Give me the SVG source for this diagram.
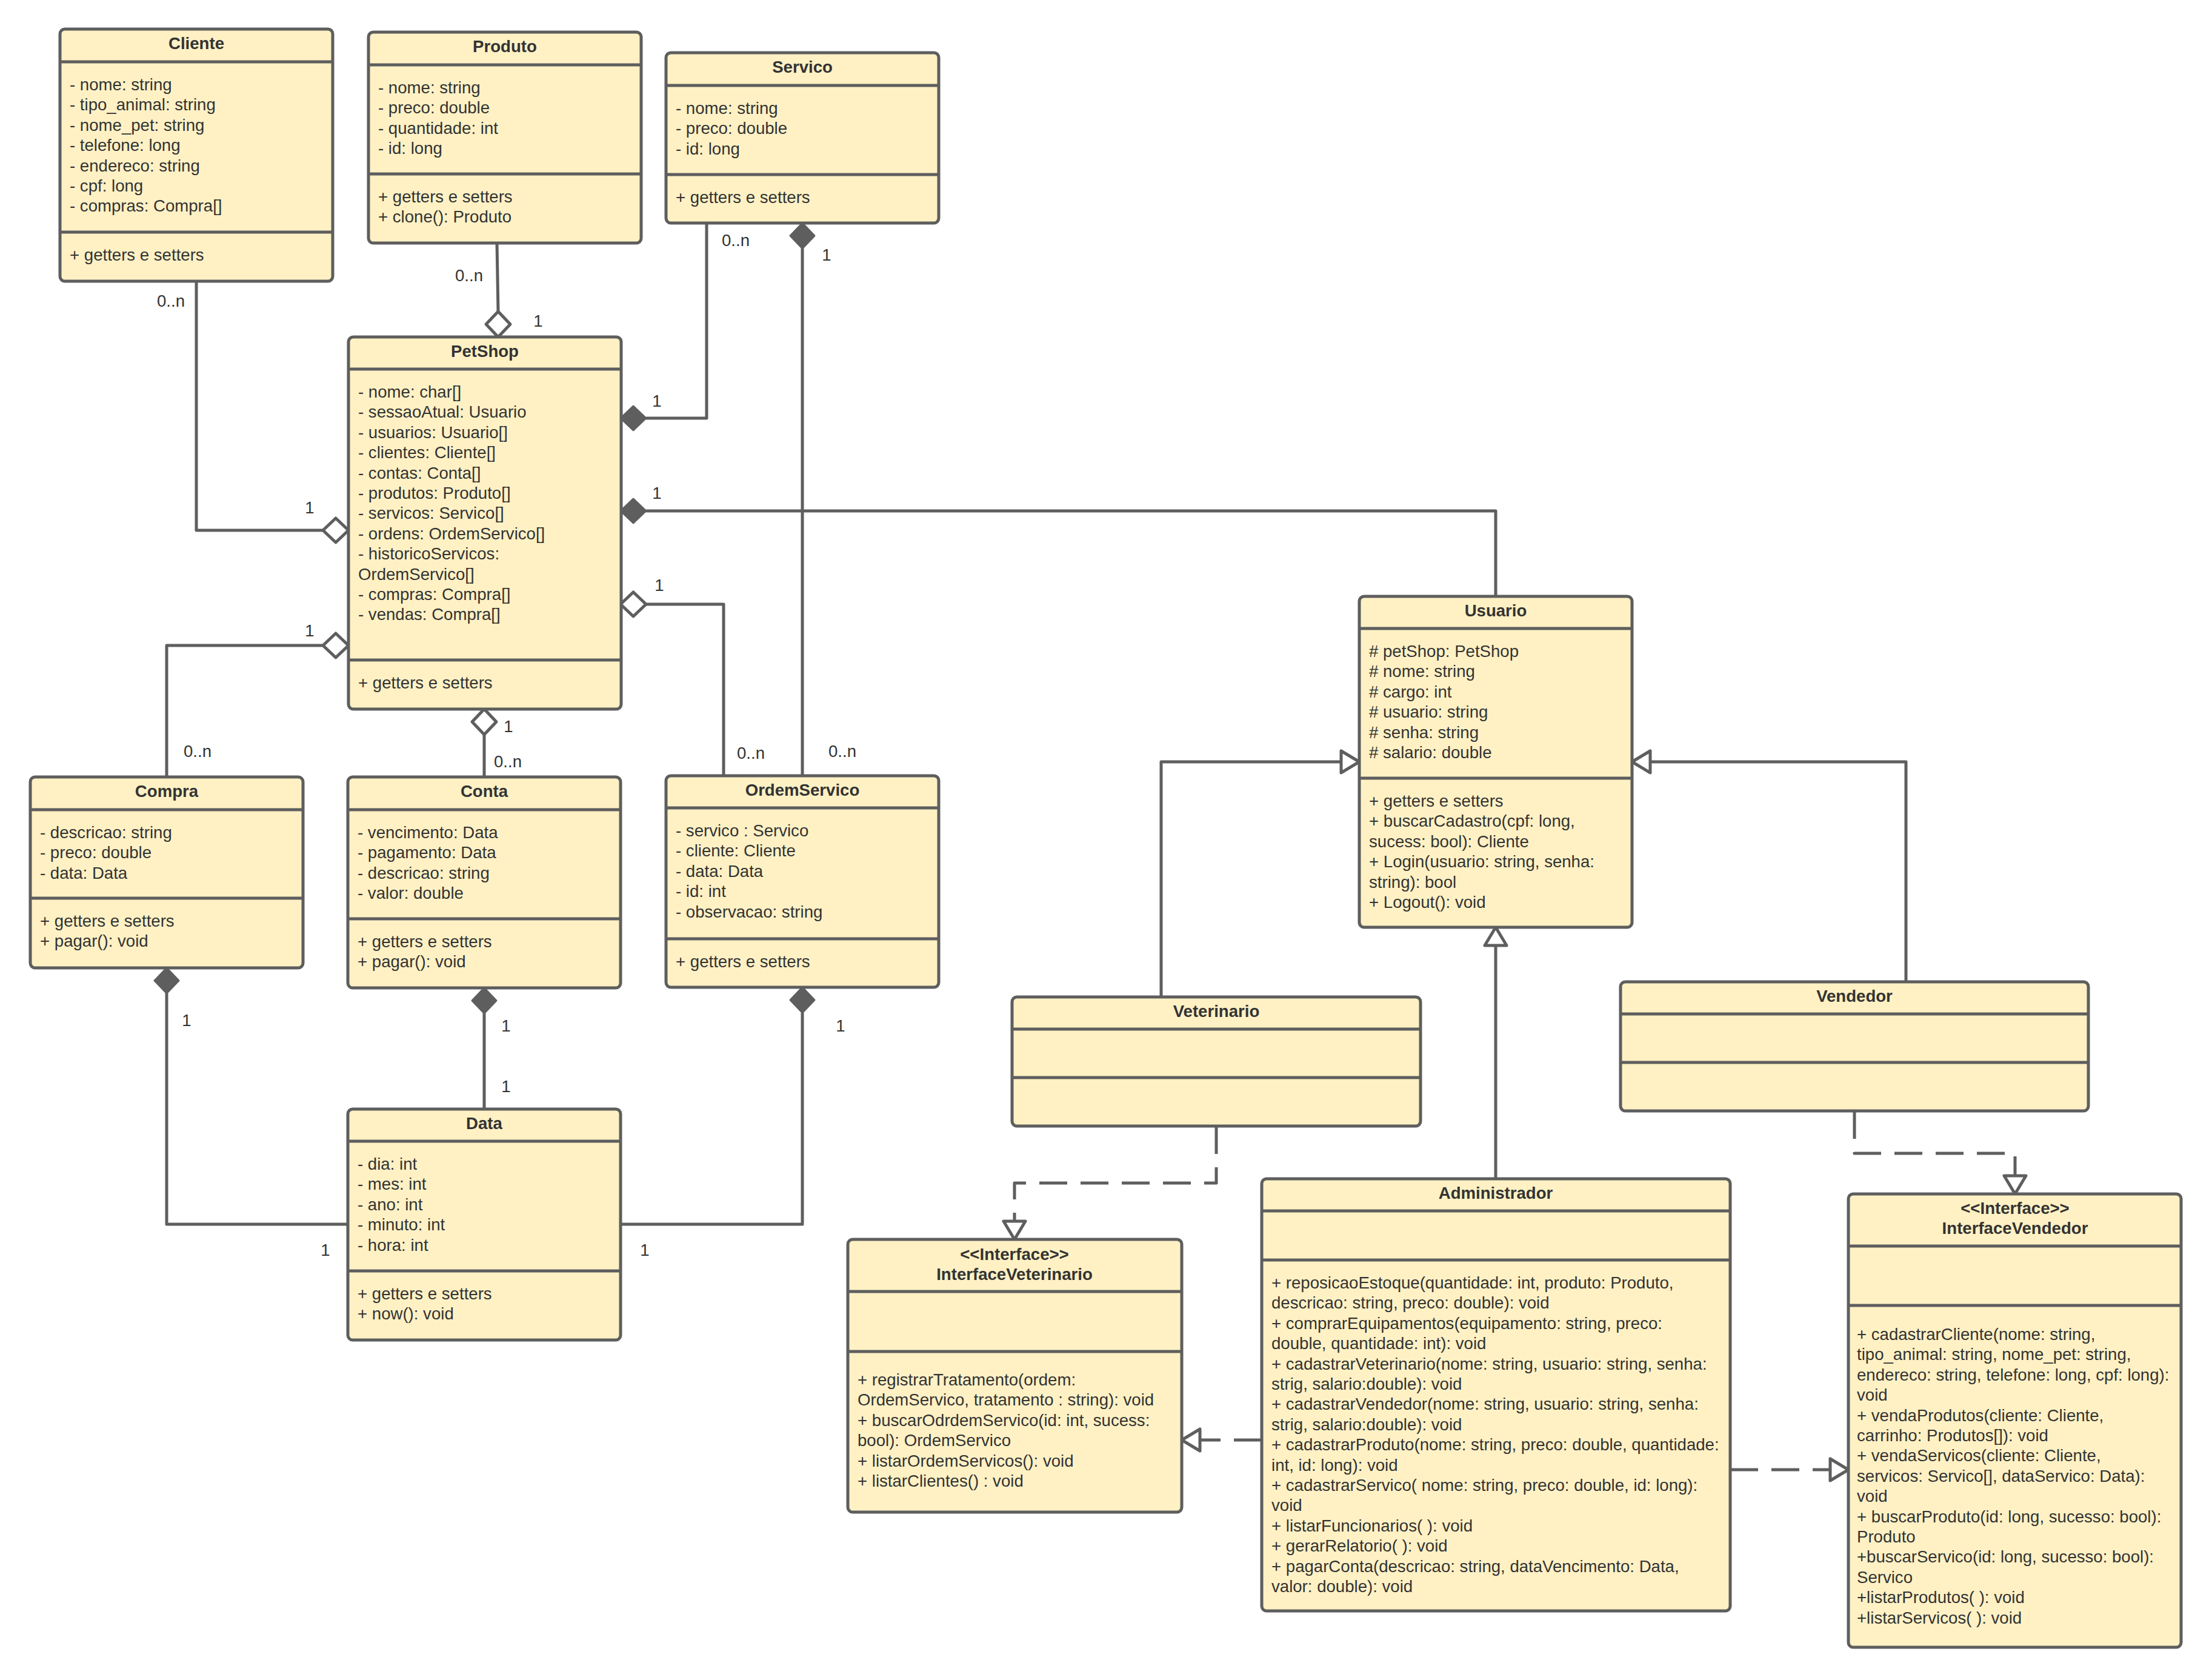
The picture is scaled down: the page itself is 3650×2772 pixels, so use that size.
<svg xmlns="http://www.w3.org/2000/svg" width="3650" height="2772" viewBox="0 0 3650 2772">
<style>
.bg{fill:#ffffff}
.box{fill:#fff1c4;stroke:#5e5e5e;stroke-width:5}
.dv{stroke:#5e5e5e;stroke-width:5}
.t{font-family:"Liberation Sans",Arial,sans-serif;font-size:27.6px;fill:#333333}
.h{font-weight:bold;text-anchor:middle}
.ln{fill:none;stroke:#5e5e5e;stroke-width:5;stroke-linejoin:round}
.dash{stroke-dasharray:46 22}
.fd{fill:#5e5e5e;stroke:#5e5e5e;stroke-width:3;stroke-linejoin:round}
.hd{fill:#ffffff;stroke:#5e5e5e;stroke-width:5;stroke-linejoin:round}
.lb{font-family:"Liberation Sans",Arial,sans-serif;font-size:27.6px;fill:#333333;text-anchor:middle}
</style>
<rect class="bg" x="0" y="0" width="3650" height="2772"/>

<g id="connectors">
  <!-- Cliente - PetShop -->
  <path class="ln" d="M324 464 V875 H533"/>
  <polygon class="hd" points="575,875 554,855 533,875 554,895"/>
  <!-- Produto - PetShop -->
  <path class="ln" d="M820 401 L822 514"/>
  <polygon class="hd" points="822,556 802,535 822,514 842,535"/>
  <!-- Servico - PetShop -->
  <path class="ln" d="M1166 368 V690 H1066"/>
  <polygon class="fd" points="1024,690 1045,670 1066,690 1045,710"/>
  <!-- PetShop - Usuario -->
  <path class="ln" d="M1066 843 H2468 V984"/>
  <polygon class="fd" points="1024,843 1045,823 1066,843 1045,863"/>
  <!-- PetShop - OrdemServico -->
  <path class="ln" d="M1066 997 H1194 V1280"/>
  <polygon class="hd" points="1024,997 1045,977 1066,997 1045,1017"/>
  <!-- Servico - OrdemServico -->
  <path class="ln" d="M1324 410 V1280"/>
  <polygon class="fd" points="1324,368 1344,389 1324,410 1304,389"/>
  <!-- PetShop - Compra -->
  <path class="ln" d="M533 1065 H275 V1282"/>
  <polygon class="hd" points="575,1065 554,1045 533,1065 554,1085"/>
  <!-- PetShop - Conta -->
  <path class="ln" d="M799 1212 V1282"/>
  <polygon class="hd" points="799,1170 819,1191 799,1212 779,1191"/>
  <!-- Compra - Data -->
  <path class="ln" d="M275 1639 V2020 H574"/>
  <polygon class="fd" points="275,1597 295,1618 275,1639 255,1618"/>
  <!-- Conta - Data -->
  <path class="ln" d="M799 1672 V1830"/>
  <polygon class="fd" points="799,1630 819,1651 799,1672 779,1651"/>
  <!-- OrdemServico - Data -->
  <path class="ln" d="M1324 1671 V2020 H1024"/>
  <polygon class="fd" points="1324,1629 1344,1650 1324,1671 1304,1650"/>
  <!-- Generalizations -->
  <path class="ln" d="M1916 1645 V1257 H2213"/>
  <polygon class="hd" points="2243,1257 2213,1239 2213,1275"/>
  <path class="ln" d="M3145 1620 V1257 H2723"/>
  <polygon class="hd" points="2693,1257 2723,1239 2723,1275"/>
  <path class="ln" d="M2468 1945 V1560"/>
  <polygon class="hd" points="2468,1530 2450,1560 2486,1560"/>
  <!-- Realizations -->
  <path class="ln dash" d="M2007 1858 V1952 H1674 V2015"/>
  <polygon class="hd" points="1674,2045 1656,2015 1692,2015"/>
  <path class="ln dash" d="M3060 1833 V1903 H3325 V1940"/>
  <polygon class="hd" points="3325,1970 3307,1940 3343,1940"/>
  <path class="ln dash" d="M2082 2376 H1980"/>
  <polygon class="hd" points="1950,2376 1980,2358 1980,2394"/>
  <path class="ln dash" d="M2855 2425 H3020"/>
  <polygon class="hd" points="3050,2425 3020,2407 3020,2443"/>
  <!-- Multiplicities -->
  <text class="lb" x="282" y="506">0..n</text>
  <text class="lb" x="511" y="847">1</text>
  <text class="lb" x="774" y="464">0..n</text>
  <text class="lb" x="888" y="539">1</text>
  <text class="lb" x="1214" y="406">0..n</text>
  <text class="lb" x="1364" y="430">1</text>
  <text class="lb" x="1084" y="671">1</text>
  <text class="lb" x="1084" y="823">1</text>
  <text class="lb" x="1088" y="975">1</text>
  <text class="lb" x="511" y="1050">1</text>
  <text class="lb" x="839" y="1208">1</text>
  <text class="lb" x="838" y="1266">0..n</text>
  <text class="lb" x="326" y="1249">0..n</text>
  <text class="lb" x="1239" y="1252">0..n</text>
  <text class="lb" x="1390" y="1249">0..n</text>
  <text class="lb" x="308" y="1693">1</text>
  <text class="lb" x="835" y="1702">1</text>
  <text class="lb" x="835" y="1802">1</text>
  <text class="lb" x="1387" y="1702">1</text>
  <text class="lb" x="537" y="2072">1</text>
  <text class="lb" x="1064" y="2072">1</text>
</g>

<g id="cliente">
  <rect class="box" x="99" y="48" width="450" height="416" rx="8"/>
  <line class="dv" x1="99" y1="102" x2="549" y2="102"/>
  <line class="dv" x1="99" y1="383" x2="549" y2="383"/>
  <text class="t h" x="324" y="81">Cliente</text>
  <text class="t" x="115" y="149"><tspan x="115">- nome: string</tspan><tspan x="115" dy="33.4">- tipo_animal: string</tspan><tspan x="115" dy="33.4">- nome_pet: string</tspan><tspan x="115" dy="33.4">- telefone: long</tspan><tspan x="115" dy="33.4">- endereco: string</tspan><tspan x="115" dy="33.4">- cpf: long</tspan><tspan x="115" dy="33.4">- compras: Compra[]</tspan></text>
  <text class="t" x="115" y="430">+ getters e setters</text>
</g>

<g id="produto">
  <rect class="box" x="608" y="53" width="450" height="348" rx="8"/>
  <line class="dv" x1="608" y1="107" x2="1058" y2="107"/>
  <line class="dv" x1="608" y1="287" x2="1058" y2="287"/>
  <text class="t h" x="833" y="86">Produto</text>
  <text class="t" x="624" y="154"><tspan x="624">- nome: string</tspan><tspan x="624" dy="33.4">- preco: double</tspan><tspan x="624" dy="33.4">- quantidade: int</tspan><tspan x="624" dy="33.4">- id: long</tspan></text>
  <text class="t" x="624" y="334"><tspan x="624">+ getters e setters</tspan><tspan x="624" dy="33.4">+ clone(): Produto</tspan></text>
</g>

<g id="servico">
  <rect class="box" x="1099" y="87" width="450" height="281" rx="8"/>
  <line class="dv" x1="1099" y1="141" x2="1549" y2="141"/>
  <line class="dv" x1="1099" y1="288" x2="1549" y2="288"/>
  <text class="t h" x="1324" y="120">Servico</text>
  <text class="t" x="1115" y="188"><tspan x="1115">- nome: string</tspan><tspan x="1115" dy="33.4">- preco: double</tspan><tspan x="1115" dy="33.4">- id: long</tspan></text>
  <text class="t" x="1115" y="335">+ getters e setters</text>
</g>

<g id="petshop">
  <rect class="box" x="575" y="556" width="450" height="614" rx="8"/>
  <line class="dv" x1="575" y1="609" x2="1025" y2="609"/>
  <line class="dv" x1="575" y1="1089" x2="1025" y2="1089"/>
  <text class="t h" x="800" y="589">PetShop</text>
  <text class="t" x="591" y="656"><tspan x="591">- nome: char[]</tspan><tspan x="591" dy="33.4">- sessaoAtual: Usuario</tspan><tspan x="591" dy="33.4">- usuarios: Usuario[]</tspan><tspan x="591" dy="33.4">- clientes: Cliente[]</tspan><tspan x="591" dy="33.4">- contas: Conta[]</tspan><tspan x="591" dy="33.4">- produtos: Produto[]</tspan><tspan x="591" dy="33.4">- servicos: Servico[]</tspan><tspan x="591" dy="33.4">- ordens: OrdemServico[]</tspan><tspan x="591" dy="33.4">- historicoServicos:</tspan><tspan x="591" dy="33.4">OrdemServico[]</tspan><tspan x="591" dy="33.4">- compras: Compra[]</tspan><tspan x="591" dy="33.4">- vendas: Compra[]</tspan></text>
  <text class="t" x="591" y="1136">+ getters e setters</text>
</g>

<g id="compra">
  <rect class="box" x="50" y="1282" width="450" height="315" rx="8"/>
  <line class="dv" x1="50" y1="1336" x2="500" y2="1336"/>
  <line class="dv" x1="50" y1="1482" x2="500" y2="1482"/>
  <text class="t h" x="275" y="1315">Compra</text>
  <text class="t" x="66" y="1383"><tspan x="66">- descricao: string</tspan><tspan x="66" dy="33.4">- preco: double</tspan><tspan x="66" dy="33.4">- data: Data</tspan></text>
  <text class="t" x="66" y="1529"><tspan x="66">+ getters e setters</tspan><tspan x="66" dy="33.4">+ pagar(): void</tspan></text>
</g>

<g id="conta">
  <rect class="box" x="574" y="1282" width="450" height="348" rx="8"/>
  <line class="dv" x1="574" y1="1336" x2="1024" y2="1336"/>
  <line class="dv" x1="574" y1="1516" x2="1024" y2="1516"/>
  <text class="t h" x="799" y="1315">Conta</text>
  <text class="t" x="590" y="1383"><tspan x="590">- vencimento: Data</tspan><tspan x="590" dy="33.4">- pagamento: Data</tspan><tspan x="590" dy="33.4">- descricao: string</tspan><tspan x="590" dy="33.4">- valor: double</tspan></text>
  <text class="t" x="590" y="1563"><tspan x="590">+ getters e setters</tspan><tspan x="590" dy="33.4">+ pagar(): void</tspan></text>
</g>

<g id="ordemservico">
  <rect class="box" x="1099" y="1280" width="450" height="349" rx="8"/>
  <line class="dv" x1="1099" y1="1333" x2="1549" y2="1333"/>
  <line class="dv" x1="1099" y1="1549" x2="1549" y2="1549"/>
  <text class="t h" x="1324" y="1313">OrdemServico</text>
  <text class="t" x="1115" y="1380"><tspan x="1115">- servico : Servico</tspan><tspan x="1115" dy="33.4">- cliente: Cliente</tspan><tspan x="1115" dy="33.4">- data: Data</tspan><tspan x="1115" dy="33.4">- id: int</tspan><tspan x="1115" dy="33.4">- observacao: string</tspan></text>
  <text class="t" x="1115" y="1596">+ getters e setters</text>
</g>

<g id="data">
  <rect class="box" x="574" y="1830" width="450" height="381" rx="8"/>
  <line class="dv" x1="574" y1="1883" x2="1024" y2="1883"/>
  <line class="dv" x1="574" y1="2097" x2="1024" y2="2097"/>
  <text class="t h" x="799" y="1863">Data</text>
  <text class="t" x="590" y="1930"><tspan x="590">- dia: int</tspan><tspan x="590" dy="33.4">- mes: int</tspan><tspan x="590" dy="33.4">- ano: int</tspan><tspan x="590" dy="33.4">- minuto: int</tspan><tspan x="590" dy="33.4">- hora: int</tspan></text>
  <text class="t" x="590" y="2144"><tspan x="590">+ getters e setters</tspan><tspan x="590" dy="33.4">+ now(): void</tspan></text>
</g>

<g id="usuario">
  <rect class="box" x="2243" y="984" width="450" height="546" rx="8"/>
  <line class="dv" x1="2243" y1="1037" x2="2693" y2="1037"/>
  <line class="dv" x1="2243" y1="1284" x2="2693" y2="1284"/>
  <text class="t h" x="2468" y="1017">Usuario</text>
  <text class="t" x="2259" y="1084"><tspan x="2259"># petShop: PetShop</tspan><tspan x="2259" dy="33.4"># nome: string</tspan><tspan x="2259" dy="33.4"># cargo: int</tspan><tspan x="2259" dy="33.4"># usuario: string</tspan><tspan x="2259" dy="33.4"># senha: string</tspan><tspan x="2259" dy="33.4"># salario: double</tspan></text>
  <text class="t" x="2259" y="1331"><tspan x="2259">+ getters e setters</tspan><tspan x="2259" dy="33.4">+ buscarCadastro(cpf: long,</tspan><tspan x="2259" dy="33.4">sucess: bool): Cliente</tspan><tspan x="2259" dy="33.4">+ Login(usuario: string, senha:</tspan><tspan x="2259" dy="33.4">string): bool</tspan><tspan x="2259" dy="33.4">+ Logout(): void</tspan></text>
</g>

<g id="veterinario">
  <rect class="box" x="1670" y="1645" width="674" height="213" rx="8"/>
  <line class="dv" x1="1670" y1="1698" x2="2344" y2="1698"/>
  <line class="dv" x1="1670" y1="1778" x2="2344" y2="1778"/>
  <text class="t h" x="2007" y="1678">Veterinario</text>
</g>

<g id="vendedor">
  <rect class="box" x="2674" y="1620" width="772" height="213" rx="8"/>
  <line class="dv" x1="2674" y1="1673" x2="3446" y2="1673"/>
  <line class="dv" x1="2674" y1="1753" x2="3446" y2="1753"/>
  <text class="t h" x="3060" y="1653">Vendedor</text>
</g>

<g id="administrador">
  <rect class="box" x="2082" y="1945" width="773" height="713" rx="8"/>
  <line class="dv" x1="2082" y1="1998" x2="2855" y2="1998"/>
  <line class="dv" x1="2082" y1="2079" x2="2855" y2="2079"/>
  <text class="t h" x="2468" y="1978">Administrador</text>
  <text class="t" x="2098" y="2126"><tspan x="2098">+ reposicaoEstoque(quantidade: int, produto: Produto,</tspan><tspan x="2098" dy="33.4">descricao: string, preco: double): void</tspan><tspan x="2098" dy="33.4">+ comprarEquipamentos(equipamento: string, preco:</tspan><tspan x="2098" dy="33.4">double, quantidade: int): void</tspan><tspan x="2098" dy="33.4">+ cadastrarVeterinario(nome: string, usuario: string, senha:</tspan><tspan x="2098" dy="33.4">strig, salario:double): void</tspan><tspan x="2098" dy="33.4">+ cadastrarVendedor(nome: string, usuario: string, senha:</tspan><tspan x="2098" dy="33.4">strig, salario:double): void</tspan><tspan x="2098" dy="33.4">+ cadastrarProduto(nome: string, preco: double, quantidade:</tspan><tspan x="2098" dy="33.4">int, id: long): void</tspan><tspan x="2098" dy="33.4">+ cadastrarServico( nome: string, preco: double, id: long):</tspan><tspan x="2098" dy="33.4">void</tspan><tspan x="2098" dy="33.4">+ listarFuncionarios( ): void</tspan><tspan x="2098" dy="33.4">+ gerarRelatorio( ): void</tspan><tspan x="2098" dy="33.4">+ pagarConta(descricao: string, dataVencimento: Data,</tspan><tspan x="2098" dy="33.4">valor: double): void</tspan></text>
</g>

<g id="interfaceveterinario">
  <rect class="box" x="1399" y="2045" width="551" height="450" rx="8"/>
  <line class="dv" x1="1399" y1="2131" x2="1950" y2="2131"/>
  <line class="dv" x1="1399" y1="2230" x2="1950" y2="2230"/>
  <text class="t h" x="1674" y="2079">&lt;&lt;Interface&gt;&gt;</text>
  <text class="t h" x="1674" y="2112">InterfaceVeterinario</text>
  <text class="t" x="1415" y="2286"><tspan x="1415">+ registrarTratamento(ordem:</tspan><tspan x="1415" dy="33.4">OrdemServico, tratamento : string): void</tspan><tspan x="1415" dy="33.4">+ buscarOdrdemServico(id: int, sucess:</tspan><tspan x="1415" dy="33.4">bool): OrdemServico</tspan><tspan x="1415" dy="33.4">+ listarOrdemServicos(): void</tspan><tspan x="1415" dy="33.4">+ listarClientes() : void</tspan></text>
</g>

<g id="interfacevendedor">
  <rect class="box" x="3050" y="1970" width="549" height="748" rx="8"/>
  <line class="dv" x1="3050" y1="2056" x2="3599" y2="2056"/>
  <line class="dv" x1="3050" y1="2154" x2="3599" y2="2154"/>
  <text class="t h" x="3325" y="2003">&lt;&lt;Interface&gt;&gt;</text>
  <text class="t h" x="3325" y="2036">InterfaceVendedor</text>
  <text class="t" x="3064" y="2211"><tspan x="3064">+ cadastrarCliente(nome: string,</tspan><tspan x="3064" dy="33.4">tipo_animal: string, nome_pet: string,</tspan><tspan x="3064" dy="33.4">endereco: string, telefone: long, cpf: long):</tspan><tspan x="3064" dy="33.4">void</tspan><tspan x="3064" dy="33.4">+ vendaProdutos(cliente: Cliente,</tspan><tspan x="3064" dy="33.4">carrinho: Produtos[]): void</tspan><tspan x="3064" dy="33.4">+ vendaServicos(cliente: Cliente,</tspan><tspan x="3064" dy="33.4">servicos: Servico[], dataServico: Data):</tspan><tspan x="3064" dy="33.4">void</tspan><tspan x="3064" dy="33.4">+ buscarProduto(id: long, sucesso: bool):</tspan><tspan x="3064" dy="33.4">Produto</tspan><tspan x="3064" dy="33.4">+buscarServico(id: long, sucesso: bool):</tspan><tspan x="3064" dy="33.4">Servico</tspan><tspan x="3064" dy="33.4">+listarProdutos( ): void</tspan><tspan x="3064" dy="33.4">+listarServicos( ): void</tspan></text>
</g>
</svg>
